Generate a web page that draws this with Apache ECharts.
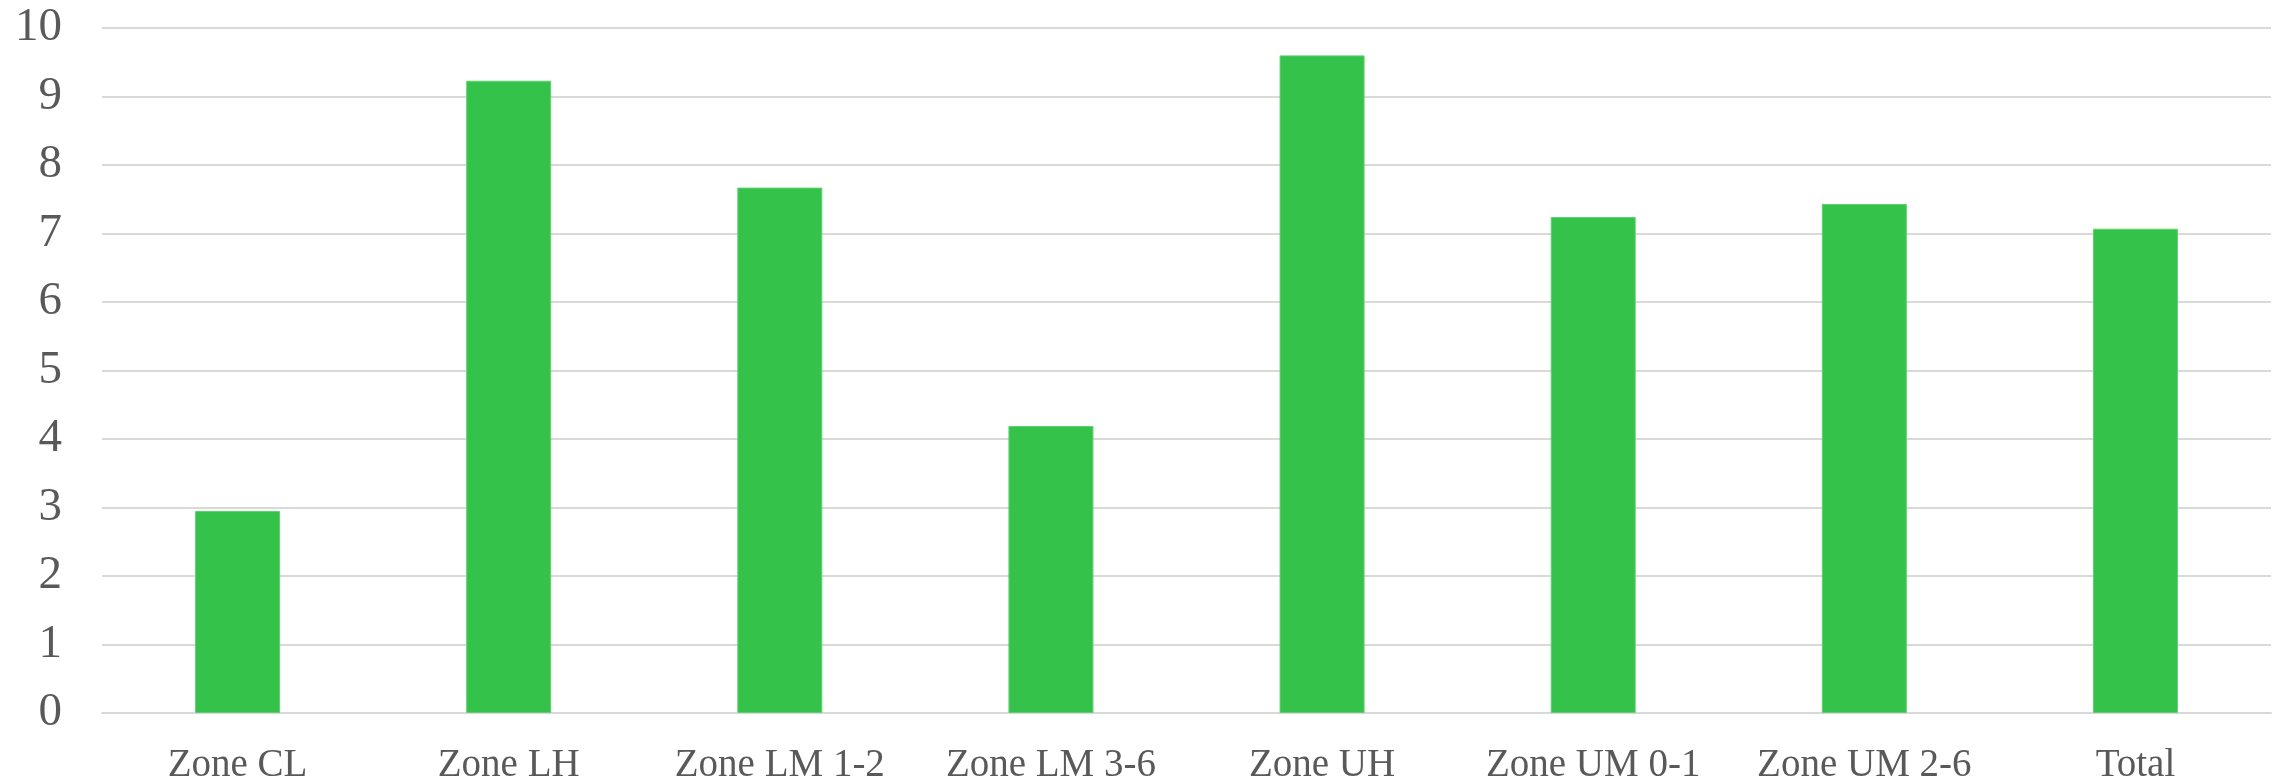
<!DOCTYPE html>
<html>
<head>
<meta charset="utf-8">
<script src="https://cdn.jsdelivr.net/npm/echarts@6/dist/echarts.min.js"></script>
<style>
html,body{margin:0;padding:0;background:#fff;}
#chart{width:2280px;height:783px;}
</style>
</head>
<body>
<div id="chart"></div>
<script>
const categories = ['Zone CL','Zone LH','Zone LM 1-2','Zone LM 3-6','Zone UH','Zone UM 0-1','Zone UM 2-6','Total'];
const values = [2.95, 9.23, 7.67, 4.19, 9.6, 7.24, 7.43, 7.07];
const yTicks = [0,1,2,3,4,5,6,7,8,9,10];

const chart = echarts.init(document.getElementById('chart'), null, {renderer:'canvas'});
chart.setOption({
  animation:false,
  backgroundColor:'#ffffff',
  grid:{left:102, right:9, top:28, bottom:70, containLabel:false, outerBoundsMode:'none'},
  xAxis:{
    type:'category',
    data:categories,
    axisLine:{show:true, lineStyle:{color:'#d9d9d9', width:2}},
    axisTick:{show:false},
    axisLabel:{
      interval:0, hideOverlap:false,
      color:'#595959', fontFamily:'Liberation Serif', fontSize:39, margin:33
    }
  },
  yAxis:{
    type:'value',
    min:yTicks[0], max:yTicks[yTicks.length-1], interval:1,
    axisLine:{show:false},
    axisTick:{show:false},
    splitLine:{show:true, lineStyle:{color:'#d9d9d9', width:2}},
    axisLabel:{color:'#595959', fontFamily:'Liberation Serif', fontSize:47, margin:40}
  },
  series:[{
    type:'bar',
    data:values,
    barWidth:85,
    itemStyle:{color:'#34c24b', borderColor:'#5fd06f', borderWidth:1}
  }]
});
</script>
</body>
</html>
